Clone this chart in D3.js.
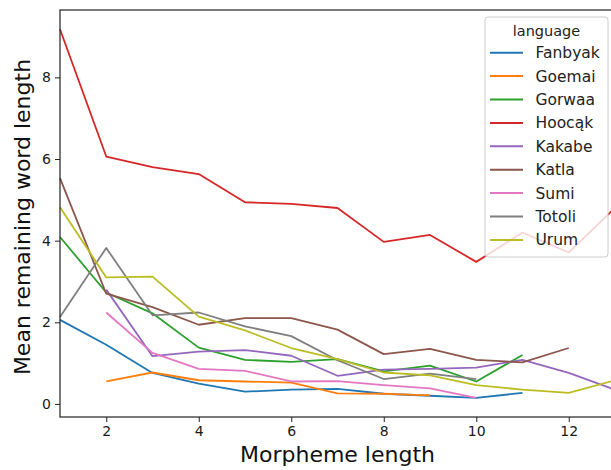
<!DOCTYPE html>
<html>
<head>
<meta charset="utf-8">
<script src="https://d3js.org/d3.v7.min.js"></script>
<style>
  body { margin: 0; background: #fff; }
  svg { display: block; font-family: "DejaVu Sans", sans-serif; }
</style>
</head>
<body>
<script>
// morpheme lengths on the x axis
var lengths = [1, 2, 3, 4, 5, 6, 7, 8, 9, 10, 11, 12, 13];

var languages = ["Fanbyak", "Goemai", "Gorwaa", "Hoocąk", "Kakabe", "Katla", "Sumi", "Totoli", "Urum"];
var colors = ["#1f77b4", "#ff7f0e", "#2ca02c", "#d62728", "#9467bd", "#8c564b", "#e377c2", "#7f7f7f", "#bcbd22"];

// mean remaining word length, null = no value at that length
var fanbyak = [2.06, 1.45, 0.76, 0.50, 0.30, 0.35, 0.37, 0.25, 0.20, 0.15, 0.27, null, null];
var goemai  = [null, 0.55, 0.77, 0.58, 0.55, 0.52, 0.26, 0.25, 0.21, null, null, null, null];
var gorwaa  = [4.09, 2.73, 2.22, 1.38, 1.08, 1.03, 1.10, 0.80, 0.94, 0.55, 1.20, null, null];
var hoocak  = [9.18, 6.06, 5.80, 5.63, 4.94, 4.90, 4.80, 3.97, 4.14, 3.48, 4.20, 3.71, 4.80];
var kakabe  = [null, 2.80, 1.17, 1.28, 1.32, 1.18, 0.69, 0.84, 0.86, 0.89, 1.08, 0.76, 0.35];
var katla   = [5.53, 2.70, 2.37, 1.94, 2.10, 2.10, 1.82, 1.22, 1.35, 1.08, 1.02, 1.37, null];
var sumi    = [null, 2.24, 1.25, 0.86, 0.81, 0.55, 0.56, 0.46, 0.38, 0.15, null, null, null];
var totoli  = [2.13, 3.82, 2.17, 2.24, 1.90, 1.66, 1.07, 0.61, 0.74, 0.61, null, null, null];
var urum    = [4.82, 3.10, 3.12, 2.14, 1.80, 1.37, 1.10, 0.77, 0.70, 0.46, 0.35, 0.27, 0.58];

var series = [fanbyak, goemai, gorwaa, hoocak, kakabe, katla, sumi, totoli, urum];

var xTicks = [2, 4, 6, 8, 10, 12];
var yTicks = [0, 2, 4, 6, 8];

var width = 611, height = 470;
var pLeft = 60, pRight = 615, pTop = 10, pBottom = 417;

var svg = d3.select("body").append("svg")
    .attr("width", width)
    .attr("height", height);

var x = d3.scaleLinear().domain([1, 13]).range([pLeft, pRight]);
var y = d3.scaleLinear().domain([-0.32, 9.65]).range([pBottom, pTop]);

var plot = svg.append("g");

var line = d3.line()
    .defined(function(d) { return d[1] != null; })
    .x(function(d) { return x(d[0]); })
    .y(function(d) { return y(d[1]); });

series.forEach(function(vals, i) {
  plot.append("path")
      .datum(lengths.map(function(l, j) { return [l, vals[j]]; }))
      .attr("fill", "none")
      .attr("stroke", colors[i])
      .attr("stroke-width", 1.8)
      .attr("stroke-linejoin", "round")
      .attr("d", line);
});

// axes
var xAxis = svg.append("g")
    .attr("transform", "translate(0," + pBottom + ")")
    .call(d3.axisBottom(x).tickValues(xTicks).tickSize(5).tickPadding(4).tickFormat(d3.format("d")));
var yAxis = svg.append("g")
    .attr("transform", "translate(" + pLeft + ",0)")
    .call(d3.axisLeft(y).tickValues(yTicks).tickSize(5).tickPadding(4).tickFormat(d3.format("d")));

[xAxis, yAxis].forEach(function(a) {
  a.select(".domain").remove();
  a.selectAll(".tick line").attr("stroke", "#222");
  a.selectAll(".tick text").attr("fill", "#1a1a1a").style("font-size", "14px").style("font-family", "DejaVu Sans");
});

// spines
svg.append("rect")
    .attr("x", pLeft).attr("y", pTop)
    .attr("width", pRight - pLeft).attr("height", pBottom - pTop)
    .attr("fill", "none")
    .attr("stroke", "#222")
    .attr("stroke-width", 1.2);

svg.append("text")
    .attr("x", (pLeft + pRight) / 2)
    .attr("y", 462)
    .attr("text-anchor", "middle")
    .style("font-size", "22px")
    .attr("fill", "#111")
    .text("Morpheme length");

svg.append("text")
    .attr("transform", "translate(29.5,217) rotate(-90)")
    .attr("text-anchor", "middle")
    .style("font-size", "22px")
    .attr("fill", "#111")
    .text("Mean remaining word length");

// legend
var lx = 485, ly = 17, lw = 123, lh = 240, step = 23.4;
var legend = svg.append("g");
legend.append("rect")
    .attr("x", lx).attr("y", ly)
    .attr("width", lw).attr("height", lh)
    .attr("rx", 3)
    .attr("fill", "white")
    .attr("fill-opacity", 0.8)
    .attr("stroke", "#ccc")
    .attr("stroke-width", 1);

legend.append("text")
    .attr("x", lx + lw / 2)
    .attr("y", ly + 19)
    .attr("text-anchor", "middle")
    .style("font-size", "14.5px")
    .attr("fill", "#222")
    .text("language");

languages.forEach(function(name, i) {
  var yy = 52.7 + i * step;
  legend.append("line")
      .attr("x1", 490).attr("x2", 523)
      .attr("y1", yy).attr("y2", yy)
      .attr("stroke", colors[i])
      .attr("stroke-width", 2);
  legend.append("text")
      .attr("x", 535.5)
      .attr("y", yy + 5.5)
      .style("font-size", "15.5px")
      .attr("fill", "#222")
      .text(name);
});
</script>
</body>
</html>
